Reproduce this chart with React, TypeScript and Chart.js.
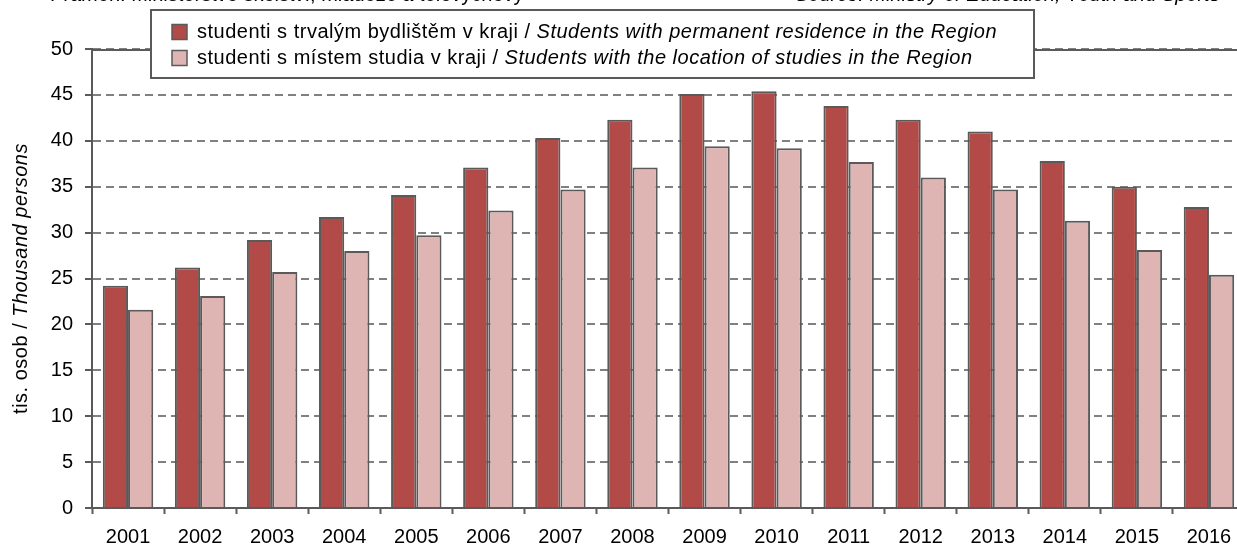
import React, { useEffect, useRef } from "react";
import { Chart, registerables } from "chart.js";

Chart.register(...registerables);

const years = ["2001", "2002", "2003", "2004", "2005", "2006", "2007", "2008", "2009", "2010", "2011", "2012", "2013", "2014", "2015", "2016"];
const residence = [24.2, 26.2, 29.2, 31.7, 34.1, 37.1, 40.3, 42.3, 45.1, 45.4, 43.8, 42.3, 41.0, 37.8, 35.0, 32.8];
const studyLocation = [21.6, 23.1, 25.7, 28.0, 29.7, 32.4, 34.7, 37.1, 39.4, 39.2, 37.7, 36.0, 34.7, 31.3, 28.1, 25.4];

const legendCz = ["studenti s trvalým bydlištěm v kraji / ", "studenti s místem studia v kraji / "];
const legendEn = ["Students with permanent residence in the Region", "Students with the location of studies in the Region"];
const yTitleCz = "tis. osob / ";
const yTitleEn = "Thousand persons";
const sourceCz = "Pramen: Ministerstvo školství, mládeže a tělovýchovy";
const sourceEn = "Source: Ministry of Education, Youth and Sports";

const FONT = "'Liberation Sans', Arial, sans-serif";
const RED = "#b24a48";
const PINK = "#dfb5b4";
const EDGE = "#5a5a5a";

const decor = {
  id: "decor",
  afterDraw(chart: any) {
    const ctx = chart.ctx as any;
    const a = chart.chartArea;
    ctx.save();
    // top border of plot
    ctx.strokeStyle = EDGE;
    ctx.lineWidth = 2;
    ctx.setLineDash([]);
    ctx.beginPath();
    ctx.moveTo(a.left, a.top + 1);
    ctx.lineTo(a.right, a.top + 1);
    ctx.stroke();

    // cut-off source line
    ctx.fillStyle = "#000";
    ctx.textBaseline = "alphabetic";
    ctx.textAlign = "left";
    ctx.font = `20px ${FONT}`;
    ctx.fillText(sourceCz, 50, 1);
    ctx.font = `italic 20px ${FONT}`;
    ctx.fillText(sourceEn, 795, 1);

    // legend box
    const bx = 151, by = 10, bw = 883, bh = 68;
    ctx.fillStyle = "#fff";
    ctx.fillRect(bx, by, bw, bh);
    ctx.strokeStyle = EDGE;
    ctx.lineWidth = 2;
    ctx.strokeRect(bx, by, bw, bh);
    const colors = [RED, PINK];
    const rowsY = [32, 58];
    if ("letterSpacing" in ctx) ctx.letterSpacing = "0.5px";
    for (let i = 0; i < 2; i++) {
      const cy = rowsY[i];
      ctx.fillStyle = colors[i];
      ctx.fillRect(172, cy - 7.5, 15, 15);
      ctx.lineWidth = 1.5;
      ctx.strokeStyle = EDGE;
      ctx.strokeRect(172, cy - 7.5, 15, 15);
      ctx.fillStyle = "#000";
      ctx.textBaseline = "middle";
      ctx.font = `20px ${FONT}`;
      ctx.fillText(legendCz[i], 197, cy);
      const w = ctx.measureText(legendCz[i]).width;
      ctx.font = `italic 20px ${FONT}`;
      ctx.fillText(legendEn[i], 197 + w, cy);
    }

    // y axis title
    ctx.translate(21, (a.top + a.bottom) / 2);
    ctx.rotate(-Math.PI / 2);
    ctx.font = `20px ${FONT}`;
    const w1 = ctx.measureText(yTitleCz).width;
    ctx.font = `italic 20px ${FONT}`;
    const w2 = ctx.measureText(yTitleEn).width;
    const start = -(w1 + w2) / 2;
    ctx.textAlign = "left";
    ctx.textBaseline = "middle";
    ctx.fillStyle = "#000";
    ctx.font = `20px ${FONT}`;
    ctx.fillText(yTitleCz, start, 0);
    ctx.font = `italic 20px ${FONT}`;
    ctx.fillText(yTitleEn, start + w1, 0);
    if ("letterSpacing" in ctx) ctx.letterSpacing = "0px";
    ctx.restore();
  },
};

export default function App() {
  const ref = useRef<HTMLCanvasElement | null>(null);
  useEffect(() => {
    document.body.style.margin = "0";
    document.body.style.overflow = "hidden";
    document.documentElement.style.overflow = "hidden";
    const canvas = ref.current!;
    const chart = new Chart(canvas, {
      type: "bar",
      data: {
        labels: years,
        datasets: [
          {
            label: legendCz[0] + legendEn[0],
            data: residence,
            backgroundColor: RED,
            borderColor: EDGE,
            borderWidth: 2,
          },
          {
            label: legendCz[1] + legendEn[1],
            data: studyLocation,
            backgroundColor: PINK,
            borderColor: EDGE,
            borderWidth: 2,
          },
        ],
      },
      plugins: [decor],
      options: {
        responsive: false,
        animation: false,
        devicePixelRatio: 1,
        layout: { padding: { left: 0, top: 49, right: 35, bottom: 0 } },
        datasets: { bar: { categoryPercentage: 0.7, barPercentage: 1 } },
        plugins: { legend: { display: false }, tooltip: { enabled: false }, title: { display: false } },
        scales: {
          x: {
            offset: true,
            grid: {
              offset: true,
              drawOnChartArea: false,
              drawTicks: true,
              tickLength: 6,
              tickColor: EDGE,
              tickWidth: 2,
            },
            border: { color: EDGE, width: 2 },
            ticks: { color: "#000", font: { family: FONT, size: 20 }, padding: 11, maxRotation: 0, autoSkip: false },
            afterFit: (s: any) => { s.height = 38; },
          },
          y: {
            min: 0,
            max: 50,
            ticks: { stepSize: 5, color: "#000", font: { family: FONT, size: 20 }, padding: 12 },
            grid: {
              color: "#808080",
              lineWidth: 2,
              drawTicks: true,
              tickLength: 7,
              tickColor: EDGE,
              tickWidth: 2,
              tickBorderDash: [],
            },
            border: { color: EDGE, width: 2, dash: [8, 5] },
            afterFit: (s: any) => { s.width = 92; },
          },
        },
      },
    });
    return () => chart.destroy();
  }, []);
  return (
    <div style={{ width: 1280, height: 546 }}>
      <canvas ref={ref} width={1280} height={546} style={{ display: "block", width: 1280, height: 546 }} />
    </div>
  );
}
